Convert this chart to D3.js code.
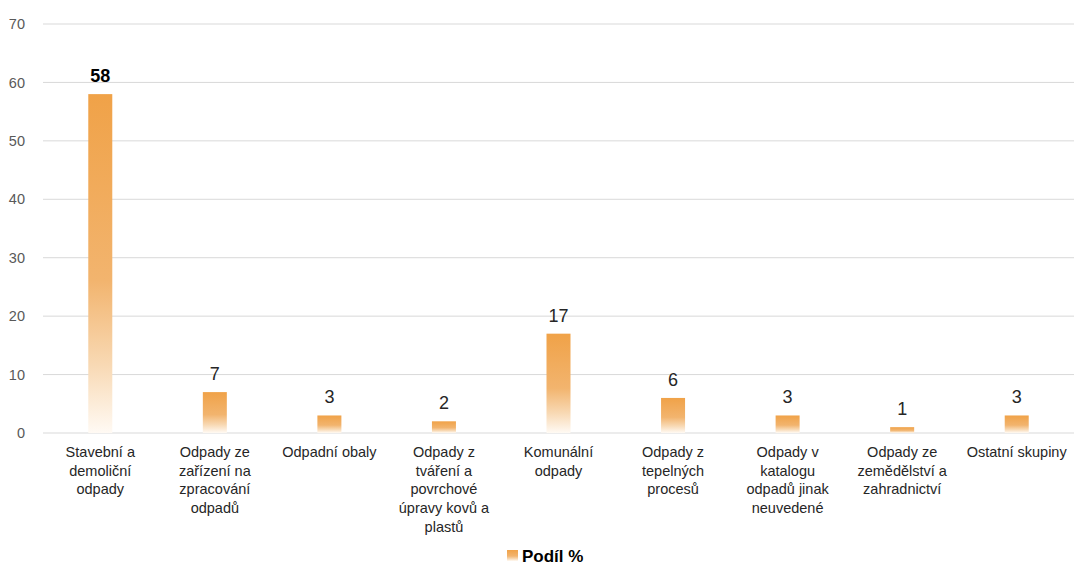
<!DOCTYPE html>
<html>
<head>
<meta charset="utf-8">
<script src="https://cdn.jsdelivr.net/npm/d3@7"></script>
<style>
  body { margin: 0; background: #fff; }
  svg { display: block; font-family: "Liberation Sans", Arial, sans-serif; }
</style>
</head>
<body>
<svg id="chart"></svg>
<script>
// data
const categories = [
    "Stavební a demoliční odpady",
    "Odpady ze zařízení na zpracování odpadů",
    "Odpadní obaly",
    "Odpady z tváření a povrchové úpravy kovů a plastů",
    "Komunální odpady",
    "Odpady z tepelných procesů",
    "Odpady v katalogu odpadů jinak neuvedené",
    "Odpady ze zemědělství a zahradnictví",
    "Ostatní skupiny"
];
const values = [58, 7, 3, 2, 17, 6, 3, 1, 3];
const yTicks = [0, 10, 20, 30, 40, 50, 60, 70];
const seriesName = "Podíl %";

const svgWidth = 1074;
const svgHeight = 565;
const margin = { top: 24, right: 0, bottom: 132, left: 43 };
const width = svgWidth - margin.left - margin.right;
const height = svgHeight - margin.top - margin.bottom;

const svg = d3.select("#chart")
    .attr("width", svgWidth)
    .attr("height", svgHeight);

// gradient used by every bar (orange on top, fading to white)
const defs = svg.append("defs");
const grad = defs.append("linearGradient")
    .attr("id", "barGrad")
    .attr("x1", 0).attr("y1", 0).attr("x2", 0).attr("y2", 1);
grad.append("stop").attr("offset", "0%").attr("stop-color", "#f0a248");
grad.append("stop").attr("offset", "55%").attr("stop-color", "#f2b46e");
grad.append("stop").attr("offset", "80%").attr("stop-color", "#f8d9b4");
grad.append("stop").attr("offset", "100%").attr("stop-color", "#fffaf4");

const g = svg.append("g")
    .attr("transform", `translate(${margin.left}, ${margin.top})`);

const xScale = d3.scaleBand()
    .domain(categories)
    .range([0, width]);

const yScale = d3.scaleLinear()
    .domain([0, 70])
    .range([height, 0]);

// gridlines
g.append("g")
    .selectAll("line")
    .data(yTicks)
    .join("line")
    .attr("x1", 0)
    .attr("x2", width)
    .attr("y1", d => yScale(d))
    .attr("y2", d => yScale(d))
    .attr("stroke", "#d9d9d9")
    .attr("stroke-width", 1);

// y axis labels
const yAxis = d3.axisLeft(yScale).tickValues(yTicks).tickSize(0).tickPadding(18);
const yAxisG = g.append("g").call(yAxis);
yAxisG.select(".domain").remove();
yAxisG.selectAll("text")
    .attr("font-size", "14.5px")
    .attr("font-family", "Liberation Sans, Arial, sans-serif")
    .attr("fill", "#595959");

// bars
const barWidth = 24;
g.append("g")
    .selectAll("rect")
    .data(values)
    .join("rect")
    .attr("x", (d, i) => xScale(categories[i]) + xScale.bandwidth() / 2 - barWidth / 2)
    .attr("y", d => yScale(d))
    .attr("width", barWidth)
    .attr("height", d => height - yScale(d))
    .attr("fill", "url(#barGrad)");

// value labels
g.append("g")
    .selectAll("text")
    .data(values)
    .join("text")
    .attr("x", (d, i) => xScale(categories[i]) + xScale.bandwidth() / 2)
    .attr("y", d => yScale(d) - 12)
    .attr("text-anchor", "middle")
    .attr("font-size", "18px")
    .attr("font-weight", (d, i) => i === 0 ? "bold" : "normal")
    .attr("fill", (d, i) => i === 0 ? "#000" : "#262626")
    .text(d => d);

// category labels, wrapped to fit the band
const xAxis = d3.axisBottom(xScale).tickSize(0).tickPadding(0);
const xAxisG = g.append("g")
    .attr("transform", `translate(0, ${height})`)
    .call(xAxis);
xAxisG.select(".domain").remove();
xAxisG.selectAll("text")
    .attr("font-size", "14.5px")
    .attr("font-family", "Liberation Sans, Arial, sans-serif")
    .attr("fill", "#262626")
    .attr("y", 24)
    .attr("dy", 0)
    .call(wrap, 104);

function wrap(texts, maxWidth) {
    texts.each(function () {
        const text = d3.select(this);
        const words = text.text().split(/\s+/);
        const x = text.attr("x") || 0;
        const y = +text.attr("y");
        text.text(null);
        let line = [];
        let lineNo = 0;
        let tspan = text.append("tspan").attr("x", x).attr("y", y);
        words.forEach(word => {
            line.push(word);
            tspan.text(line.join(" "));
            if (tspan.node().getComputedTextLength() > maxWidth && line.length > 1) {
                line.pop();
                tspan.text(line.join(" "));
                line = [word];
                lineNo++;
                tspan = text.append("tspan")
                    .attr("x", x)
                    .attr("y", y + lineNo * 18.7)
                    .text(word);
            }
        });
    });
}

// legend
const legend = svg.append("g")
    .attr("transform", `translate(507, 550)`);
legend.append("rect")
    .attr("width", 11)
    .attr("height", 11)
    .attr("fill", "url(#barGrad)");
legend.append("text")
    .attr("x", 15)
    .attr("y", 12)
    .attr("font-size", "17px")
    .attr("font-weight", "bold")
    .attr("fill", "#000")
    .text(seriesName);
</script>
</body>
</html>
